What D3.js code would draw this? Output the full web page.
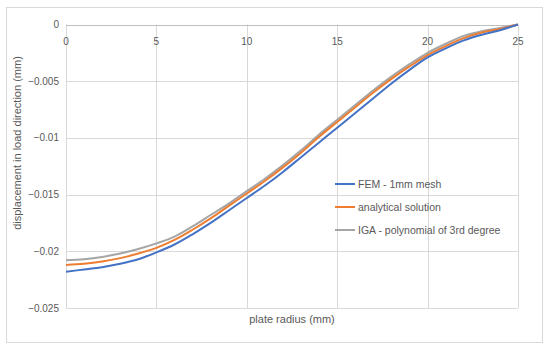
<!DOCTYPE html>
<html>
<head>
<meta charset="utf-8">
<script src="https://cdn.jsdelivr.net/npm/d3@7"></script>
<style>
  body { margin: 0; background: #fff; }
  text { font-family: "Liberation Sans", "DejaVu Sans", sans-serif; fill: #595959; }
</style>
</head>
<body>
<div id="chart"></div>
<script>
// plate radius (mm)
let radius = d3.range(0, 26)

// displacement in load direction (mm)
let femValues = [
  -0.0218, -0.0216, -0.0214, -0.0211, -0.0207, -0.0201, -0.0194, -0.0185, -0.0175,
  -0.0164, -0.0153, -0.0142, -0.0130, -0.0117, -0.0104, -0.0091, -0.0078, -0.0065,
  -0.0052, -0.0040, -0.0029, -0.0021, -0.0014, -0.0009, -0.0005, 0
]
let analyticalValues = [
  -0.0212, -0.0211, -0.0209, -0.0206, -0.0202, -0.0197, -0.0190, -0.0181, -0.0171,
  -0.0160, -0.0149, -0.0138, -0.0126, -0.0113, -0.0099, -0.0086, -0.0073, -0.0060,
  -0.0048, -0.0037, -0.0027, -0.0019, -0.0012, -0.0007, -0.0004, 0
]
let igaValues = [
  -0.0208, -0.0207, -0.0205, -0.0202, -0.0198, -0.0193, -0.0187, -0.0178, -0.0168,
  -0.0158, -0.0147, -0.0136, -0.0124, -0.0111, -0.0097, -0.0084, -0.0071, -0.0058,
  -0.0046, -0.0035, -0.0025, -0.0017, -0.0010, -0.0006, -0.0003, 0
]

let seriesNames = ["FEM - 1mm mesh", "analytical solution", "IGA - polynomial of 3rd degree"]
let seriesColors = ["#4472C4", "#ED7D31", "#A5A5A5"]

let xTicks = [0, 5, 10, 15, 20, 25]
let yTicks = [0, -0.005, -0.01, -0.015, -0.02, -0.025]

let series = [femValues, analyticalValues, igaValues].map(function(vals, i) {
  return {
    name: seriesNames[i],
    color: seriesColors[i],
    points: radius.map(function(r, j) { return {r: r, v: vals[j]} })
  }
})

let width = 550, height = 350

let svg = d3.select("#chart")
  .append("svg")
  .attr("width", width)
  .attr("height", height)

// outer chart border
svg.append("rect")
  .attr("x", 6.5).attr("y", 7.5)
  .attr("width", 536).attr("height", 335)
  .attr("fill", "none")
  .attr("stroke", "#d9d9d9")

let x = d3.scaleLinear().domain([0, 25]).range([66, 518])
let y = d3.scaleLinear().domain([0, -0.025]).range([24.5, 308])

// gridlines
svg.selectAll(".hgrid")
  .data(yTicks)
  .enter()
  .append("line")
  .attr("x1", x(0)).attr("x2", x(25))
  .attr("y1", function(d) { return Math.round(y(d)) + 0.5 })
  .attr("y2", function(d) { return Math.round(y(d)) + 0.5 })
  .attr("stroke", "#d9d9d9")

svg.selectAll(".vgrid")
  .data(xTicks)
  .enter()
  .append("line")
  .attr("y1", y(0)).attr("y2", y(-0.025))
  .attr("x1", function(d) { return Math.round(x(d)) + 0.5 })
  .attr("x2", function(d) { return Math.round(x(d)) + 0.5 })
  .attr("stroke", "#d9d9d9")

// axis line at zero
svg.append("line")
  .attr("x1", x(0)).attr("x2", x(25))
  .attr("y1", Math.round(y(0)) + 0.5).attr("y2", Math.round(y(0)) + 0.5)
  .attr("stroke", "#bfbfbf")

// x tick labels sit just under the zero line
svg.selectAll(".xlabel")
  .data(xTicks)
  .enter()
  .append("text")
  .attr("x", function(d) { return x(d) })
  .attr("y", y(0) + 20)
  .attr("text-anchor", "middle")
  .attr("font-size", 10)
  .text(function(d) { return d })

svg.selectAll(".ylabel")
  .data(yTicks)
  .enter()
  .append("text")
  .attr("x", 59)
  .attr("y", function(d) { return y(d) + 3.5 })
  .attr("text-anchor", "end")
  .attr("font-size", 10)
  .text(function(d) { return d === 0 ? "0" : "\u2212" + String(-d) })

// lines
let line = d3.line()
  .x(function(d) { return x(d.r) })
  .y(function(d) { return y(d.v) })
  .curve(d3.curveCatmullRom.alpha(0.5))

svg.selectAll(".series")
  .data(series.slice().reverse())
  .enter()
  .append("path")
  .attr("d", function(d) { return line(d.points) })
  .attr("fill", "none")
  .attr("stroke", function(d) { return d.color })
  .attr("stroke-width", 2)

// legend
let legend = svg.selectAll(".legend")
  .data(series)
  .enter()
  .append("g")
  .attr("transform", function(d, i) { return "translate(335," + (184 + i * 23) + ")" })

legend.append("line")
  .attr("x1", 0).attr("x2", 20)
  .attr("stroke", function(d) { return d.color })
  .attr("stroke-width", 2)

legend.append("text")
  .attr("x", 23)
  .attr("y", 4)
  .attr("font-size", 10.5)
  .text(function(d) { return d.name })

// axis titles
svg.append("text")
  .attr("x", 292)
  .attr("y", 323)
  .attr("text-anchor", "middle")
  .attr("font-size", 11)
  .text("plate radius (mm)")

svg.append("text")
  .attr("transform", "translate(21,143) rotate(-90)")
  .attr("text-anchor", "middle")
  .attr("font-size", 11)
  .text("displacement in load direction  (mm)")
</script>
</body>
</html>
